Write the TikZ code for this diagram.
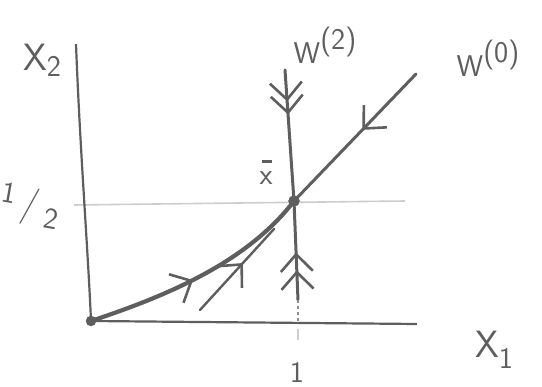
\documentclass[tikz,border=0pt]{standalone}
\usetikzlibrary{decorations.markings,arrows.meta}
\definecolor{ink}{HTML}{5E5E5E}
\definecolor{faint}{HTML}{CDCDCD}
\tikzset{
  axisline/.style={draw=ink, line width=2.2pt},
  thickcurve/.style={draw=ink, line width=4.2pt, line cap=round},
  wline/.style={draw=ink, line width=3pt, line cap=round},
  thinline/.style={draw=ink, line width=2.4pt, line cap=round},
  guide/.style={draw=faint, line width=1.6pt},
  lbl/.style={text=ink, font=\sffamily\fontsize{38}{40}\selectfont, inner sep=0pt},
  slbl/.style={text=ink, font=\sffamily\fontsize{30}{32}\selectfont, inner sep=0pt},
  midarrow/.style={postaction={decorate, decoration={markings,
      mark=at position #1 with {\arrow[ink, line width=2.6pt]{Straight Barb[length=17pt, width=32pt]}}}}},
  dot/.style={circle, fill=ink, draw=ink, minimum size=10pt, inner sep=0pt}
}
\begin{document}
\begin{tikzpicture}[x=1pt, y=-1pt]
\useasboundingbox (0,0) rectangle (542,387);
% coordinates
\coordinate (ytop) at (76,44);
\coordinate (O) at (91,321);
\coordinate (xend) at (417,324);
\coordinate (X) at (294,201);
\coordinate (w2top) at (285,70);
\coordinate (w2bot) at (298,300);
\coordinate (tick1) at (298,323);
\coordinate (tickb1) at (298,329);
\coordinate (tickb2) at (298,340);
\coordinate (w0top) at (416,74);
\coordinate (thinstart) at (200,310);
\coordinate (thinend) at (274,229);
\coordinate (hl) at (74,205);
\coordinate (hr) at (405,201);
% guide line at 1/2
\path[guide] (hl) -- (hr);
% axes
\path[axisline] (ytop) .. controls (80,150) and (88,250) .. (O);
\path[axisline] (O) -- (xend);
% W(2)
\path[wline, midarrow=0.24, midarrow=0.34] (w2top) -- (X);
\path[wline, midarrow=0.30, midarrow=0.48] (w2bot) -- (X);
\path[draw=ink!70, line width=1.5pt, dashed] (w2bot) -- (tick1);
\path[draw=faint, line width=2.5pt] (tickb1) -- (tickb2);
% W(0)
\path[wline, midarrow=0.44] (w0top) -- (X);
% thick trajectory from origin
\path[thickcurve, midarrow=0.46] (O) .. controls (160,298) and (245,265) .. (X);
% thin trajectory
\path[thinline, midarrow=0.58] (thinstart) -- (thinend);
% dots
\node[dot] (Odot) at (O) {};
\node[dot, minimum size=11pt] (Xdot) at (X) {};
% labels
\node[lbl] (lx2) at (42,60) {X\raisebox{-0.35ex}{\fontsize{30}{32}\selectfont 2}};
\node[lbl, rotate=-10] (lhalf) at (30,206) {\raisebox{0.55ex}{\fontsize{30}{32}\selectfont 1}\kern0.18em/\kern0.18em\raisebox{-0.55ex}{\fontsize{30}{32}\selectfont 2}};
\node[slbl] (lw2) at (325,45) {W\raisebox{1.1ex}{(2)}};
\node[slbl] (lw0) at (488,58) {W\raisebox{1.1ex}{(0)}};
\node[slbl] (lxbar) at (266,172) {\rlap{\kern0.08em\raisebox{0.72em}{\rule{0.35em}{0.09em}}}x};
\node[lbl] (lx1) at (494,350) {X\raisebox{-0.7ex}{\fontsize{30}{32}\selectfont 1}};
\node[slbl] (l1) at (297,372) {1};
\end{tikzpicture}
\end{document}
